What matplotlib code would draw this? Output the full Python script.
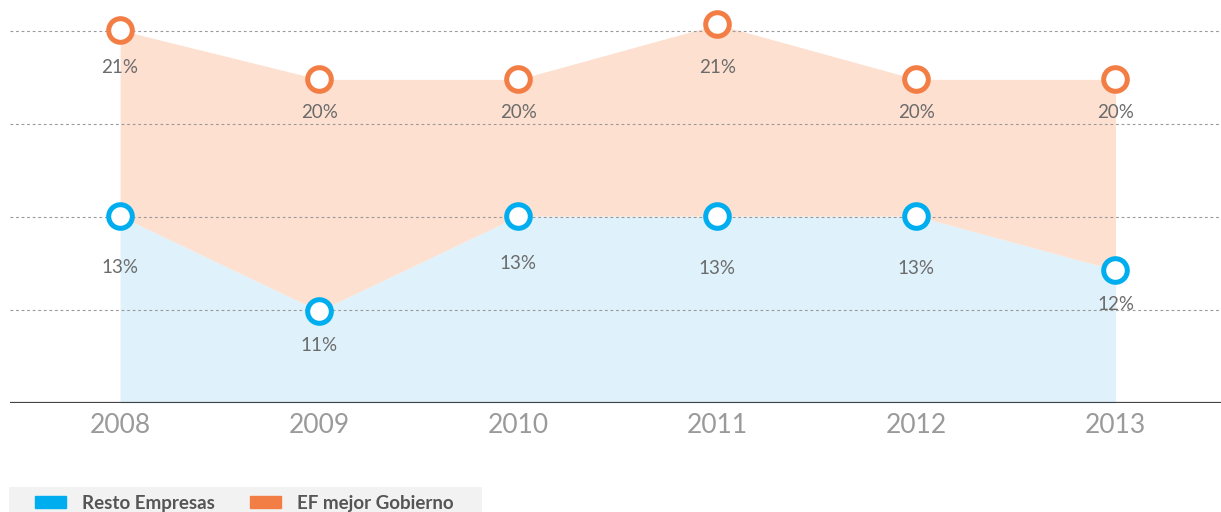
import matplotlib.pyplot as plt
from matplotlib.patches import Patch, Rectangle

# Data (heights in grid steps; labels as printed)
years = ["2008", "2009", "2010", "2011", "2012", "2013"]
ef_level = [4.01, 3.48, 3.48, 4.07, 3.48, 3.48]
resto_level = [2.01, 0.99, 2.01, 2.01, 2.01, 1.43]
ef_pct = ["21%", "20%", "20%", "21%", "20%", "20%"]
resto_pct = ["13%", "11%", "13%", "13%", "13%", "12%"]

blue = "#00aeef"
orange = "#f27e45"
blue_fill = "#dff1fa"
orange_fill = "#fde0d0"

plt.rcParams["font.family"] = ["Lato", "DejaVu Sans"]

W, H = 1221, 512
fig = plt.figure(figsize=(W / 100, H / 100), dpi=100)
ax = fig.add_axes([10 / W, 109 / H, 1211 / W, 403 / H])

x = range(len(years))
ax.fill_between(x, 0, resto_level, color=blue_fill, lw=0)
ax.fill_between(x, resto_level, ef_level, color=orange_fill, lw=0)

for g in [1, 2, 3, 4]:
    ax.axhline(g, color="#9a9a9a", lw=0.8, ls=(0, (2.5, 2.5)), zorder=1)
ax.axhline(0, color="#444444", lw=1.6, zorder=3)

ax.plot(x, ef_level, ls="none", marker="o", ms=17, mfc="white", mec=orange, mew=3.6, zorder=5, clip_on=False)
ax.plot(x, resto_level, ls="none", marker="o", ms=17, mfc="white", mec=blue, mew=3.6, zorder=5, clip_on=False)

# label offsets below each marker, in points
ef_off = [-27, -24, -24, -31, -24, -24]
resto_off = [-37, -25, -34, -38, -38, -25]
for i in x:
    ax.annotate(ef_pct[i], (i, ef_level[i]), xytext=(0, ef_off[i]), textcoords="offset points",
                ha="center", va="center", fontsize=13.5, color="#6b6b6b", zorder=6)
    ax.annotate(resto_pct[i], (i, resto_level[i]), xytext=(0, resto_off[i]), textcoords="offset points",
                ha="center", va="center", fontsize=13.5, color="#6b6b6b", zorder=6)

ax.set_xlim(-0.553, 5.53)
ax.set_ylim(0, 403 / 93)
ax.set_xticks(list(x))
ax.set_xticklabels(years, fontsize=19, color="#9a9a9a")
ax.tick_params(axis="x", length=0, pad=7)
ax.set_yticks([])
for s in ax.spines.values():
    s.set_visible(False)

# legend: grey band at the bottom, partly cut by the image edge
fig.patches.append(Rectangle((9 / W, 0), 473 / W, 25 / H, transform=fig.transFigure,
                             facecolor="#f2f2f2", edgecolor="none", zorder=0))
handles = [Patch(color=blue, label="Resto Empresas"), Patch(color=orange, label="EF mejor Gobierno")]
leg = fig.legend(handles=handles, loc="center left", bbox_to_anchor=(35 / W, 1 - 503 / H),
                 borderaxespad=0, borderpad=0, ncol=2, frameon=False,
                 handlelength=1.65, handleheight=0.6, handletextpad=0.85, columnspacing=1.9,
                 prop={"weight": "bold", "size": 13.5})
for t in leg.get_texts():
    t.set_color("#555555")

fig.savefig("out.png", dpi=100)
